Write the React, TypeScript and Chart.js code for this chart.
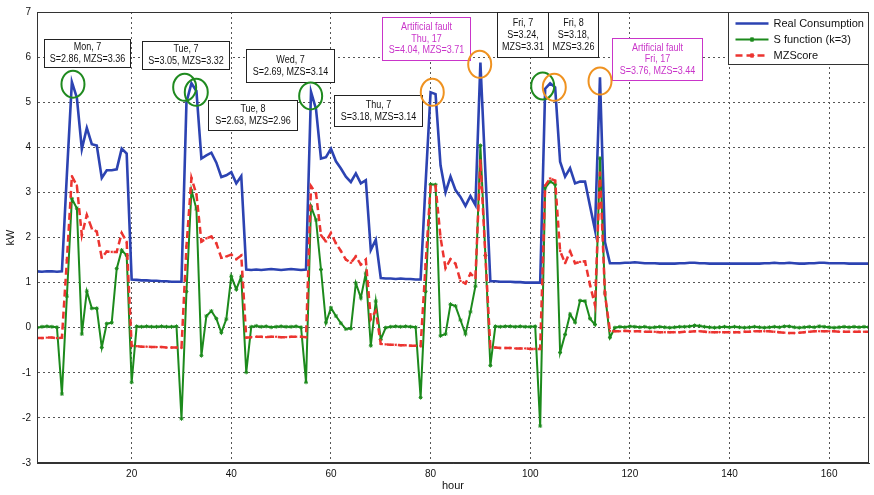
import React, { useEffect, useRef } from 'react';
import { Chart, registerables } from 'chart.js';

Chart.register(...registerables);

// ---------- data (hour 1..168) ----------
const HOURS: number[] = Array.from({ length: 168 }, (_, i) => i + 1);

const REAL_CONSUMPTION: number[] = [
  1.25, 1.24, 1.25, 1.25, 1.24, 1.25, 3.4, 5.45, 5.1, 3.96,
  4.43, 4.07, 4.04, 3.32, 3.49, 3.49, 3.51, 3.97, 3.86, 1.07,
  1.06, 1.05, 1.05, 1.04, 1.04, 1.03, 1.03, 1.02, 1.02, 1.02,
  5.0, 5.42, 5.25, 3.75, 3.82, 3.88, 3.66, 3.34, 3.38, 3.45,
  3.2, 3.36, 1.29, 1.28, 1.29, 1.28, 1.29, 1.3, 1.29, 1.28,
  1.29, 1.3, 1.29, 1.28, 1.29, 5.23, 4.85, 3.75, 3.78, 3.97,
  3.69, 3.53, 3.35, 3.23, 3.42, 3.2, 3.27, 1.72, 1.95, 1.1,
  1.09, 1.09, 1.08, 1.09, 1.08, 1.08, 1.07, 1.07, 3.2, 5.22,
  5.18, 3.6, 3.0, 3.35, 3.05, 2.9, 2.7, 2.92, 2.72, 5.88,
  3.45, 1.03, 1.03, 1.02, 1.02, 1.02, 1.01, 1.01, 1.0, 1.0,
  1.0, 1.0, 5.3, 5.42, 5.33, 3.68, 3.35, 3.54, 3.2, 3.24,
  3.24, 2.7, 2.17, 5.55, 1.9, 1.43, 1.43, 1.43, 1.44, 1.44,
  1.45, 1.44, 1.43, 1.43, 1.43, 1.42, 1.42, 1.42, 1.42, 1.43,
  1.43, 1.44, 1.44, 1.43, 1.43, 1.42, 1.42, 1.42, 1.42, 1.42,
  1.42, 1.42, 1.42, 1.42, 1.42, 1.42, 1.43, 1.43, 1.44, 1.43,
  1.43, 1.44, 1.43, 1.42, 1.42, 1.43, 1.43, 1.44, 1.44, 1.43,
  1.43, 1.43, 1.43, 1.42, 1.42, 1.42, 1.42, 1.42,
];

const S_FUNCTION: number[] = [
  0.0, 0.02, 0.03, 0.02, 0.01, -1.47, 0.7, 2.86, 2.65, -0.14,
  0.81, 0.43, 0.43, -0.44, 0.09, 0.11, 1.31, 1.72, 1.6, -1.21,
  0.03, 0.02, 0.03, 0.02, 0.02, 0.03, 0.02, 0.02, 0.03, -2.02,
  0.8, 3.05, 2.63, -0.62, 0.26, 0.37, 0.2, -0.11, 0.19, 1.14,
  0.85, 1.14, -0.99, 0.02, 0.04, 0.02, 0.03, 0.01, 0.02, 0.03,
  0.02, 0.02, 0.03, 0.01, -1.21, 2.69, 2.39, 1.29, 0.11, 0.44,
  0.26, 0.1, -0.03, -0.02, 0.99, 0.66, 1.21, -0.4, 0.59, -0.26,
  0.0, 0.02, 0.03, 0.02, 0.03, 0.02, 0.01, -1.55, 0.8, 3.18,
  3.17, -0.18, -0.14, 0.52, 0.48, 0.17, -0.14, 0.35, 0.92, 4.04,
  1.6, -0.84, 0.03, 0.02, 0.03, 0.03, 0.02, 0.03, 0.02, 0.02,
  0.03, -2.18, 3.1, 3.24, 3.18, -0.55, -0.15, 0.3, 0.12, 0.6,
  0.59, 0.2, 0.07, 3.76, 0.77, -0.22, 0.0, 0.02, 0.01, 0.03,
  0.02, 0.01, 0.02, 0.0, 0.01, 0.02, 0.01, 0.0, 0.01, 0.02,
  0.02, 0.03, 0.05, 0.04, 0.02, 0.01, 0.0, 0.01, 0.02, 0.01,
  0.02, 0.01, 0.0, 0.01, 0.02, 0.01, 0.0, 0.01, 0.02, 0.01,
  0.03, 0.03, 0.01, 0.0, 0.01, 0.02, 0.01, 0.03, 0.02, 0.01,
  0.0, 0.01, 0.02, 0.01, 0.02, 0.01, 0.02, 0.01,
];

const MZSCORE: number[] = [
  -0.23, -0.23, -0.22, -0.22, -0.23, -0.22, 1.5, 3.36, 3.15, 2.05,
  2.5, 2.2, 2.13, 1.55, 1.69, 1.68, 1.68, 2.1, 1.9, -0.4,
  -0.41, -0.42, -0.42, -0.43, -0.43, -0.43, -0.44, -0.44, -0.44, -0.45,
  1.8, 3.32, 2.96, 1.91, 1.98, 2.02, 1.87, 1.55, 1.58, 1.62,
  1.52, 1.6, -0.22, -0.21, -0.2, -0.2, -0.21, -0.2, -0.2, -0.21,
  -0.21, -0.2, -0.2, -0.2, -0.21, 3.14, 2.98, 2.05, 1.91, 2.1,
  1.87, 1.7, 1.51, 1.44, 1.58, 1.4, 1.51, 0.19, 0.37, -0.36,
  -0.37, -0.38, -0.38, -0.39, -0.39, -0.4, -0.4, -0.41, 1.4, 3.14,
  3.14, 2.0, 1.32, 1.52, 1.42, 1.04, 0.98, 1.2, 1.1, 3.71,
  1.6, -0.44, -0.44, -0.45, -0.45, -0.45, -0.46, -0.46, -0.46, -0.47,
  -0.47, -0.47, 3.15, 3.31, 3.26, 1.7, 1.43, 1.69, 1.43, 1.46,
  1.47, 0.95, 0.5, 3.44, 0.74, -0.07, -0.08, -0.08, -0.07, -0.08,
  -0.08, -0.08, -0.09, -0.09, -0.09, -0.1, -0.1, -0.1, -0.1, -0.1,
  -0.09, -0.09, -0.08, -0.08, -0.09, -0.1, -0.1, -0.1, -0.1, -0.1,
  -0.1, -0.1, -0.09, -0.09, -0.08, -0.08, -0.08, -0.08, -0.09, -0.1,
  -0.11, -0.12, -0.12, -0.11, -0.1, -0.09, -0.08, -0.08, -0.08, -0.08,
  -0.08, -0.09, -0.09, -0.09, -0.09, -0.09, -0.09, -0.09,
];

const SERIES_NAMES = ['Real Consumption', 'S function (k=3)', 'MZScore'];
const X_TICKS = [20, 40, 60, 80, 100, 120, 140, 160];
const Y_TICKS = [-3, -2, -1, 0, 1, 2, 3, 4, 5, 6, 7];

// annotation boxes (data coordinates: hour / kW)
const NOTES = [
  { lines: ['Mon, 7', 'S=2.86, MZS=3.36'], x1: 2.36, x2: 19.66, y1: 6.41, y2: 5.79, fault: false },
  { lines: ['Tue, 7', 'S=3.05, MZS=3.32'], x1: 22.0, x2: 39.5, y1: 6.355, y2: 5.73, fault: false },
  { lines: ['Tue, 8', 'S=2.63, MZS=2.96'], x1: 35.3, x2: 53.1, y1: 5.055, y2: 4.385, fault: false },
  { lines: ['Wed, 7', 'S=2.69, MZS=3.14'], x1: 42.95, x2: 60.58, y1: 6.17, y2: 5.45, fault: false },
  { lines: ['Thu, 7', 'S=3.18, MZS=3.14'], x1: 60.58, x2: 78.2, y1: 5.156, y2: 4.48, fault: false },
  { lines: ['Artificial fault', 'Thu, 17', 'S=4.04, MZS=3.71'], x1: 70.2, x2: 87.9, y1: 6.89, y2: 5.94, fault: true },
  { lines: ['Fri, 7', 'S=3.24,', 'MZS=3.31'], x1: 93.4, x2: 103.5, y1: 6.99, y2: 6.01, fault: false },
  { lines: ['Fri, 8', 'S=3.18,', 'MZS=3.26'], x1: 103.5, x2: 113.6, y1: 6.99, y2: 6.01, fault: false },
  { lines: ['Artificial fault', 'Fri, 17', 'S=3.76, MZS=3.44'], x1: 116.5, x2: 134.4, y1: 6.43, y2: 5.5, fault: true },
];

// highlighted peaks (data coordinates)
const RINGS = [
  { x: 8.22, y: 5.4, kind: 'detected' },
  { x: 30.64, y: 5.33, kind: 'detected' },
  { x: 32.97, y: 5.22, kind: 'detected' },
  { x: 55.93, y: 5.14, kind: 'detected' },
  { x: 80.34, y: 5.22, kind: 'fault' },
  { x: 89.86, y: 5.84, kind: 'fault' },
  { x: 102.5, y: 5.36, kind: 'detected' },
  { x: 104.83, y: 5.33, kind: 'fault' },
  { x: 114.01, y: 5.47, kind: 'fault' },
];

const FONT = "'Liberation Sans', Arial, Helvetica, sans-serif";
const BLUE = '#2c43b2';
const GREEN = '#1c8a1c';
const RED = '#ec3430';
const MAGENTA = '#c935c9';
const RING_GREEN = '#1f8a1f';
const RING_ORANGE = '#ef9220';

function drawStar(ctx: CanvasRenderingContext2D, x: number, y: number, r: number) {
  ctx.beginPath();
  ctx.moveTo(x - r, y); ctx.lineTo(x + r, y);
  ctx.moveTo(x, y - r); ctx.lineTo(x, y + r);
  const d = r * 0.7;
  ctx.moveTo(x - d, y - d); ctx.lineTo(x + d, y + d);
  ctx.moveTo(x - d, y + d); ctx.lineTo(x + d, y - d);
  ctx.stroke();
}

const overlayPlugin = {
  id: 'overlay',
  afterDatasetsDraw(chart: any) {
    const { ctx, chartArea, scales } = chart;
    const xs = scales.x;
    const ys = scales.y;
    ctx.save();

    // frame
    ctx.strokeStyle = '#333';
    ctx.lineWidth = 1;
    ctx.setLineDash([]);
    ctx.strokeRect(chartArea.left + 0.5, chartArea.top + 0.5, chartArea.right - chartArea.left - 1, chartArea.bottom - chartArea.top - 1);

    // annotation boxes
    NOTES.forEach((n) => {
      const l = Math.round(xs.getPixelForValue(n.x1)) + 0.5;
      const r = Math.round(xs.getPixelForValue(n.x2)) + 0.5;
      const t = Math.round(ys.getPixelForValue(n.y1)) + 0.5;
      const b = Math.round(ys.getPixelForValue(n.y2)) + 0.5;
      ctx.fillStyle = '#fff';
      ctx.fillRect(l, t, r - l, b - t);
      ctx.strokeStyle = n.fault ? MAGENTA : '#222';
      ctx.lineWidth = 1;
      ctx.strokeRect(l, t, r - l, b - t);
      ctx.fillStyle = n.fault ? MAGENTA : '#111';
      ctx.font = `10px ${FONT}`;
      ctx.textAlign = 'center';
      ctx.textBaseline = 'middle';
      const gap = n.fault ? 11.5 : 12;
      const cy = (t + b) / 2;
      const cx = (l + r) / 2;
      const start = cy - ((n.lines.length - 1) * gap) / 2;
      n.lines.forEach((line, i) => {
        ctx.save();
        ctx.translate(cx, start + i * gap);
        ctx.scale(0.9, 1);
        ctx.fillText(line, 0, 0);
        ctx.restore();
      });
    });

    // rings
    RINGS.forEach((r) => {
      const cx = xs.getPixelForValue(r.x);
      const cy = ys.getPixelForValue(r.y);
      ctx.strokeStyle = r.kind === 'fault' ? RING_ORANGE : RING_GREEN;
      ctx.lineWidth = 2;
      ctx.beginPath();
      ctx.ellipse(cx, cy, 11.5, 13.5, 0, 0, Math.PI * 2);
      ctx.stroke();
    });

    // legend
    const lw = 141;
    const lh = 52;
    const lx = chartArea.right - lw + 0.5;
    const ly = chartArea.top + 0.5;
    ctx.fillStyle = '#fff';
    ctx.fillRect(lx, ly, lw - 1, lh);
    ctx.strokeStyle = '#333';
    ctx.lineWidth = 1;
    ctx.strokeRect(lx, ly, lw - 1, lh);
    const colors = [BLUE, GREEN, RED];
    SERIES_NAMES.forEach((name, i) => {
      const y = ly + 11 + i * 16;
      const x0 = lx + 7;
      const x1 = lx + 40;
      ctx.strokeStyle = colors[i];
      ctx.lineWidth = i === 1 ? 2 : 2.5;
      ctx.setLineDash(i === 2 ? [7, 4] : []);
      ctx.beginPath();
      ctx.moveTo(x0, y);
      ctx.lineTo(x1, y);
      ctx.stroke();
      ctx.setLineDash([]);
      if (i > 0) {
        ctx.lineWidth = 1.2;
        drawStar(ctx, (x0 + x1) / 2, y, 2.5);
      }
      ctx.fillStyle = '#111';
      ctx.font = `11px ${FONT}`;
      ctx.textAlign = 'left';
      ctx.textBaseline = 'middle';
      ctx.fillText(name, lx + 45, y + 0.5);
    });

    ctx.restore();
  },
};

export default function App() {
  const ref = useRef<HTMLCanvasElement>(null);

  useEffect(() => {
    if (!ref.current) return;
    const toXY = (vals: number[]) => HOURS.map((h, i) => ({ x: h, y: vals[i] }));
    const chart = new Chart(ref.current, {
      type: 'line',
      data: {
        datasets: [
          {
            label: SERIES_NAMES[0],
            data: toXY(REAL_CONSUMPTION),
            borderColor: BLUE,
            backgroundColor: BLUE,
            borderWidth: 2.6,
            pointRadius: 0,
            tension: 0,
            order: 3,
          },
          {
            label: SERIES_NAMES[1],
            data: toXY(S_FUNCTION),
            borderColor: GREEN,
            backgroundColor: GREEN,
            borderWidth: 2,
            pointRadius: 2,
            pointStyle: 'star',
            pointBorderWidth: 1,
            pointBorderColor: GREEN,
            tension: 0,
            order: 2,
          },
          {
            label: SERIES_NAMES[2],
            data: toXY(MZSCORE),
            borderColor: RED,
            backgroundColor: RED,
            borderWidth: 2.5,
            borderDash: [7, 4],
            pointRadius: 1.2,
            pointStyle: 'star',
            pointBorderWidth: 1,
            pointBorderColor: RED,
            tension: 0,
            order: 1,
          },
        ],
      },
      options: {
        animation: false,
        responsive: false,
        devicePixelRatio: 1,
        layout: { padding: { top: 9, right: 1, left: 0, bottom: 0 } },
        plugins: { legend: { display: false }, tooltip: { enabled: false } },
        scales: {
          x: {
            type: 'linear',
            min: 1,
            max: 168,
            afterBuildTicks: (s: any) => { s.ticks = X_TICKS.map((v) => ({ value: v })); },
            afterFit: (s: any) => { s.height = 32; },
            grid: { color: '#555', drawTicks: false, lineWidth: 1 },
            border: { display: true, color: '#333', dash: [2, 3] },
            ticks: { padding: 5, color: '#111', font: { family: FONT, size: 10 }, maxRotation: 0, autoSkip: false },
            title: { display: true, text: 'hour', color: '#111', font: { family: FONT, size: 11 }, padding: { top: 0, bottom: 2 } },
          },
          y: {
            type: 'linear',
            min: -3,
            max: 7,
            afterBuildTicks: (s: any) => { s.ticks = Y_TICKS.map((v) => ({ value: v })); },
            afterFit: (s: any) => { s.width = 37; },
            grid: { color: '#555', drawTicks: false, lineWidth: 1 },
            border: { display: true, color: '#333', dash: [2, 3] },
            ticks: { padding: 6, color: '#111', font: { family: FONT, size: 10 }, autoSkip: false },
            title: { display: true, text: 'kW', color: '#111', font: { family: FONT, size: 11 }, padding: { top: 4, bottom: 0 } },
          },
        },
      },
      plugins: [overlayPlugin],
    } as any);
    return () => chart.destroy();
  }, []);

  return (
    <div style={{ position: 'absolute', left: 0, top: 0, width: 874, height: 495, background: '#fff' }}>
      <canvas ref={ref} width={874} height={495} style={{ display: 'block' }} />
    </div>
  );
}
